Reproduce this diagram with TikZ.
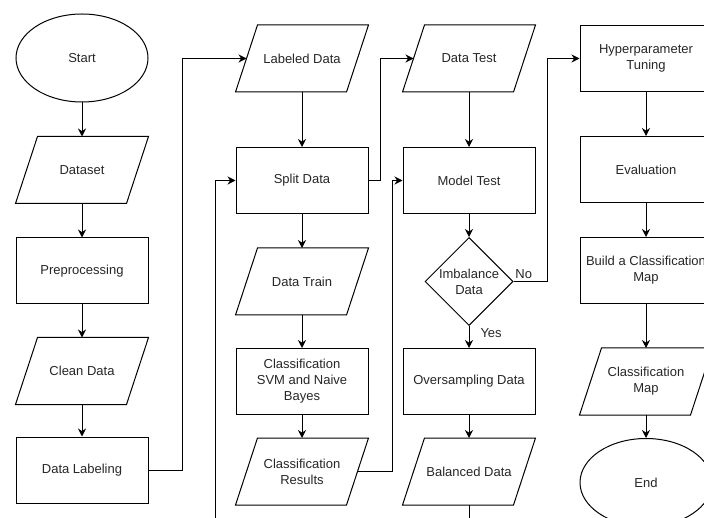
\documentclass[tikz,border=0pt]{standalone}
\usepackage{fontspec}
\setmainfont{Liberation Sans}
\usetikzlibrary{shapes.geometric, arrows.meta, positioning}

\begin{document}
\begin{tikzpicture}[x=1pt, y=1pt, line width=1pt, font=\fontsize{13}{16}\selectfont,
    base/.style={draw=black, text=black!85, align=center, inner sep=0pt},
    terminal/.style={base, ellipse, minimum width=132pt, minimum height=88pt},
    process/.style={base, rectangle, minimum width=132pt, minimum height=66pt},
    io/.style={base, draw=none, rectangle, minimum width=132pt, minimum height=66pt,
        append after command={\pgfextra{\draw ([xshift=22pt]\tikzlastnode.north west)
            -- (\tikzlastnode.north east) -- ([xshift=-22pt]\tikzlastnode.south east)
            -- (\tikzlastnode.south west) -- cycle;}}},
    decision/.style={base, diamond, minimum width=88pt, minimum height=88pt},
    flow/.style={-{Stealth[length=8pt, width=8pt]}},
    tag/.style={text=black!85, inner sep=2pt}]
            \useasboundingbox (0,0) rectangle (704,-518);
            \clip (0,0) rectangle (704,-518);

            \node[terminal] (start) at (82,-58) {Start};
            \node[io, below=34pt of start] (dataset) {Dataset};
            \node[process, below=34pt of dataset] (prep) {Preprocessing};
            \node[io, below=33pt of prep] (clean) {Clean Data};
            \node[process, below=32pt of clean] (labeling) {Data Labeling};

            \node[io] (labeled) at (302,-58.5) {Labeled Data};
            \node[process, below=55pt of labeled] (split) {Split Data};
            \node[io, below=34pt of split] (train) {Data Train};
            \node[process, below=33pt of train] (svm) {Classification\\SVM and Naive\\Bayes};
            \node[io, below=23pt of svm] (results) {Classification\\Results};

            \node[io] (datatest) at (469,-58.5) {Data Test};
            \node[process, below=55pt of datatest] (model) {Model Test};
            \node[decision, below=23pt of model,
                label={[tag, align=center]center:Imbalance\\Data}] (imb) {};
            \node[process, below=22pt of imb] (over) {Oversampling Data};
            \node[io, below=23pt of over] (balanced) {Balanced Data};

            \node[process] (hyper) at (646,-58.5) {Hyperparameter\\Tuning};
            \node[process, below=44pt of hyper] (eval) {Evaluation};
            \node[process, below=34pt of eval] (build) {Build a Classification\\Map};
            \node[io, below=44pt of build] (map) {Classification\\Map};
            \node[terminal, below=23pt of map] (stop) {End};

            \coordinate (backsplit) at (215,-530);
            \coordinate (down) at (469,-530);

            \draw[flow] (start) -- (dataset);
            \draw[flow] (dataset) -- (prep);
            \draw[flow] (prep) -- (clean);
            \draw[flow] (clean) -- (labeling);
            \draw[flow] (labeling.east) -- ++(34,0) |- ([xshift=11pt]labeled.west);
            \draw[flow] (labeled) -- (split);
            \draw[flow] (split) -- (train);
            \draw[flow] (train) -- (svm);
            \draw[flow] (svm) -- (results);
            \draw[flow] (split.east) -- ++(12,0) |- ([xshift=11pt]datatest.west);
            \draw[flow] ([xshift=-11pt]results.east) -- ++(35,0) |- (model.west);
            \draw[flow] (backsplit) |- (split.west);
            \draw[flow] (datatest) -- (model);
            \draw[flow] (model) -- (imb);
            \draw[flow] (imb) -- node[tag, right=9pt, pos=0.3] (yes) {Yes} (over);
            \draw[flow] (imb.east) -- node[tag, above, pos=0.3] (no) {No} ++(34,0) |- (hyper.west);
            \draw[flow] (over) -- (balanced);
            \draw (balanced) -- (down);
            \draw[flow] (hyper) -- (eval);
            \draw[flow] (eval) -- (build);
            \draw[flow] (build) -- (map);
            \draw[flow] (map) -- (stop);
\end{tikzpicture}
\end{document}
